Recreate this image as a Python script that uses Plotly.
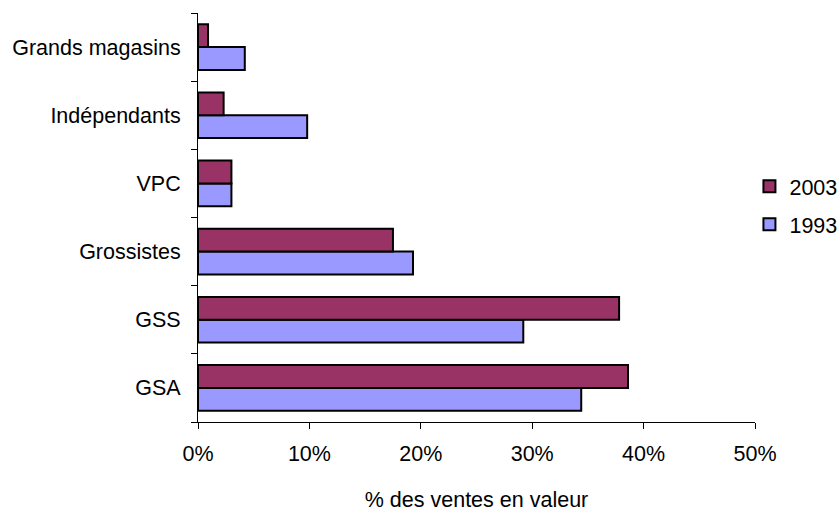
import plotly.graph_objects as go

# Distribution channels, listed bottom to top
channels = ["GSA", "GSS", "Grossistes", "VPC", "Indépendants", "Grands magasins"]
share_1993 = [34.4, 29.2, 19.3, 3.0, 9.8, 4.2]
share_2003 = [38.6, 37.8, 17.5, 3.0, 2.3, 0.9]
x_ticks = [0, 10, 20, 30, 40, 50]
x_tick_labels = ["0%", "10%", "20%", "30%", "40%", "50%"]

FONT = "Liberation Sans, Arial, sans-serif"
FS = 21.5

fig = go.Figure()
fig.add_trace(go.Bar(
    y=channels, x=share_1993, name="1993", orientation="h",
    legendgroup="g1993", legendrank=2,
    marker=dict(color="#9999FF", line=dict(color="black", width=2)),
))
fig.add_trace(go.Bar(
    y=channels, x=share_2003, name="2003", orientation="h",
    legendgroup="g2003", legendrank=1,
    marker=dict(color="#993366", line=dict(color="black", width=2)),
))

fig.update_layout(
    width=838, height=516,
    margin=dict(l=197.5, r=82.5, t=13, b=94, autoexpand=False),
    paper_bgcolor="white", plot_bgcolor="white",
    barmode="group", bargap=0.33, bargroupgap=0,
    font=dict(family=FONT, size=FS, color="black"),
    showlegend=True,
    legend=dict(
        traceorder="grouped",
        x=0.99, xanchor="left", y=0.53, yanchor="middle",
        font=dict(family=FONT, size=FS, color="black"),
        itemwidth=30, tracegroupgap=7,
        bgcolor="rgba(0,0,0,0)",
    ),
)

fig.update_xaxes(
    range=[0, 50], tickvals=x_ticks, ticktext=x_tick_labels,
    showgrid=False, zeroline=False,
    showline=True, linecolor="black", linewidth=1,
    ticks="outside", ticklen=6, tickcolor="black", tickwidth=1,
    ticklabelstandoff=6,
    title=dict(text="% des ventes en valeur", standoff=27,
               font=dict(family=FONT, size=FS)),
    tickfont=dict(family=FONT, size=FS),
)
fig.update_yaxes(
    categoryorder="array", categoryarray=channels,
    showgrid=False, zeroline=False,
    showline=True, linecolor="black", linewidth=1,
    ticks="outside", ticklen=6, tickcolor="black", tickwidth=1,
    tickson="boundaries", ticklabelstandoff=12,
    tickfont=dict(family=FONT, size=FS),
)

fig.write_html("out.html")
